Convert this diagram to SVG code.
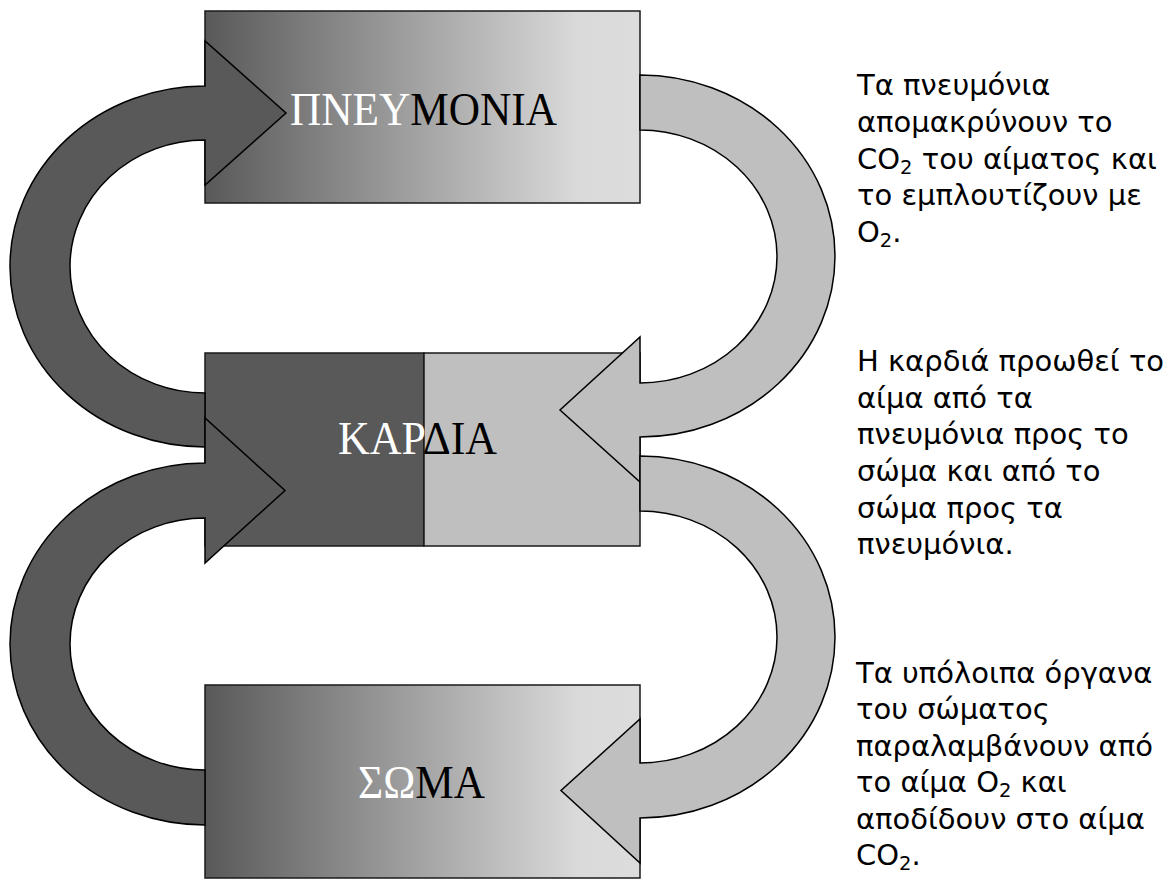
<svg xmlns="http://www.w3.org/2000/svg" width="1173" height="888" viewBox="0 0 1173 888">
  <defs>
    <linearGradient id="grad" x1="0" y1="0" x2="1" y2="0">
      <stop offset="0" stop-color="#595959"/>
      <stop offset="0.86" stop-color="#DADADA"/>
      <stop offset="1" stop-color="#DCDCDC"/>
    </linearGradient>
  </defs>
  <style>
    .box { stroke: #1a1a1a; stroke-width: 1.5; }
    .grad { fill: url(#grad); }
    .dark { fill: #595959; }
    .light { fill: #BFBFBF; }
    .arrow { stroke: #000; stroke-width: 1.5; stroke-linejoin: miter; }
    .label { font-family: "Liberation Serif", "DejaVu Serif", serif; font-size: 47px; }
    .w { fill: #FFFFFF; }
    .b { fill: #000000; }
    .note { font-family: "DejaVu Sans", Verdana, sans-serif; font-size: 29px; fill: #000; }
    .sub { font-size: 19.5px; }
  </style>
  <rect width="1173" height="888" fill="#FFFFFF"/>

  <g id="lungs">
    <rect class="box grad" x="205" y="11" width="435" height="192"/>
  </g>
  <g id="heart">
    <rect class="box dark" x="205" y="353" width="219" height="193"/>
    <rect class="box light" x="424" y="353" width="216" height="193"/>
  </g>
  <g id="body">
    <rect class="box grad" x="205" y="685" width="435" height="193"/>
  </g>

  <g id="connectors">
    <path class="arrow dark" d="M205,447 A195,180.5 0 0 1 205,86 L205,41 L286,113 L205,185 L205,140 A135,126.5 0 0 0 205,393 Z"/>
    <path class="arrow dark" d="M205,825 A195,181 0 0 1 205,463 L205,418 L285,490.5 L205,563 L205,518 A135,126 0 0 0 205,770 Z"/>
    <path class="arrow light" d="M640,75 A195,181 0 0 1 640,437 L640,482 L560,410 L640,337 L640,383 A137,126.5 0 0 0 640,130 Z"/>
    <path class="arrow light" d="M640,456 A195,181 0 0 1 640,818 L640,863 L561,790.5 L640,719 L640,763 A137,126 0 0 0 640,511 Z"/>
  </g>

  <g id="lungs-label">
    <text class="label" x="290" y="125" textLength="267" lengthAdjust="spacingAndGlyphs"><tspan class="w">ΠΝΕΥ</tspan><tspan class="b">ΜΟΝΙΑ</tspan></text>
  </g>
  <g id="heart-label">
    <text class="label" x="338" y="454" textLength="159" lengthAdjust="spacingAndGlyphs"><tspan class="w">ΚΑΡ</tspan><tspan class="b">ΔΙΑ</tspan></text>
  </g>
  <g id="body-label">
    <text class="label" x="358" y="798" textLength="127" lengthAdjust="spacingAndGlyphs"><tspan class="w">ΣΩ</tspan><tspan class="b">ΜΑ</tspan></text>
  </g>

  <g id="note-lungs" class="note">
    <text x="857" y="95">Τα πνευμόνια</text>
    <text x="857" y="132">απομακρύνουν το</text>
    <text x="857" y="169">CO<tspan class="sub" dy="5">2</tspan><tspan dy="-5"> του αίματος και</tspan></text>
    <text x="857" y="205">το εμπλουτίζουν με</text>
    <text x="857" y="242">O<tspan class="sub" dy="5">2</tspan><tspan dy="-5">.</tspan></text>
  </g>
  <g id="note-heart" class="note">
    <text x="857" y="371">Η καρδιά προωθεί το</text>
    <text x="857" y="408">αίμα από τα</text>
    <text x="857" y="444">πνευμόνια προς το</text>
    <text x="857" y="481">σώμα και από το</text>
    <text x="857" y="518">σώμα προς τα</text>
    <text x="857" y="554">πνευμόνια.</text>
  </g>
  <g id="note-body" class="note">
    <text x="856" y="683">Τα υπόλοιπα όργανα</text>
    <text x="856" y="719">του σώματος</text>
    <text x="856" y="756">παραλαμβάνουν από</text>
    <text x="856" y="792">το αίμα O<tspan class="sub" dy="5">2</tspan><tspan dy="-5"> και</tspan></text>
    <text x="856" y="829">αποδίδουν στο αίμα</text>
    <text x="856" y="865">CO<tspan class="sub" dy="5">2</tspan><tspan dy="-5">.</tspan></text>
  </g>
</svg>
